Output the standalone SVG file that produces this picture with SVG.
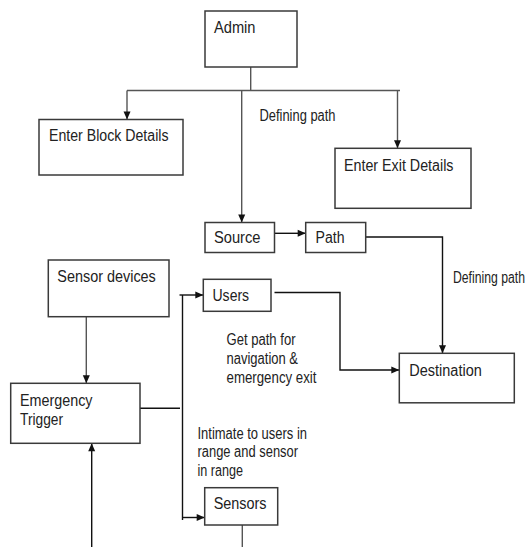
<svg xmlns="http://www.w3.org/2000/svg" width="531" height="547" viewBox="0 0 531 547">
<style>
.box{fill:#fff;stroke:#3a3a3a;stroke-width:1.5}
.t{font-family:"Liberation Sans",Arial,sans-serif;font-size:16px;fill:#222}
.ln{fill:none;stroke:#555;stroke-width:1.4}
.lk{fill:none;stroke:#111;stroke-width:1.4}
</style>
<defs>
<marker id="ah" markerUnits="userSpaceOnUse" markerWidth="10" markerHeight="10" viewBox="0 0 10 10" refX="9" refY="5" orient="auto">
<path d="M1,1.5 L9,5 L1,8.5 Z" fill="#111"/>
</marker>
</defs>
<rect width="531" height="547" fill="#fff"/>
<g id="connectors">
<path class="ln" d="M250.7,67 V90.5 M127,90.5 H400"/>
<path class="ln" d="M127,90.5 V119.5" marker-end="url(#ah)"/>
<path class="ln" d="M397.5,90.5 V148.3" marker-end="url(#ah)"/>
<path class="ln" d="M241.7,90.5 V222.5" marker-end="url(#ah)"/>
<path class="lk" d="M274.5,233.3 H305.7" marker-end="url(#ah)"/>
<path class="lk" d="M365.7,237 H442.5 V353.3" marker-end="url(#ah)"/>
<path class="lk" d="M274.5,292.5 H340 V370 H399.3" marker-end="url(#ah)"/>
<path class="ln" d="M86.3,316.7 V383.3" marker-end="url(#ah)"/>
<path class="lk" d="M140,408.3 H180"/>
<path class="lk" d="M182.5,295 V520"/>
<path class="lk" d="M179.5,295 H203.3" marker-end="url(#ah)"/>
<path class="lk" d="M182.5,517.5 H204.7" marker-end="url(#ah)"/>
<path class="ln" d="M242.3,525 V547"/>
<path class="lk" d="M91.7,547 V443.3" marker-end="url(#ah)"/>
<text class="t" x="259.5" y="120.5" textLength="76" lengthAdjust="spacingAndGlyphs">Defining path</text>
<text class="t" x="453" y="283" textLength="72" lengthAdjust="spacingAndGlyphs">Defining path</text>
<text class="t" x="226.5" y="345.3" textLength="69" lengthAdjust="spacingAndGlyphs">Get path for</text>
<text class="t" x="226.5" y="364" textLength="71.5" lengthAdjust="spacingAndGlyphs">navigation &amp;</text>
<text class="t" x="226.5" y="382.5" textLength="90" lengthAdjust="spacingAndGlyphs">emergency exit</text>
<text class="t" x="197.5" y="438.5" textLength="109.5" lengthAdjust="spacingAndGlyphs">Intimate to users in</text>
<text class="t" x="197.5" y="457" textLength="100.5" lengthAdjust="spacingAndGlyphs">range and sensor</text>
<text class="t" x="197.5" y="475.5" textLength="45.5" lengthAdjust="spacingAndGlyphs">in range</text>
</g>
<g id="admin">
<rect class="box" x="205" y="11" width="92" height="56"/>
<text class="t" x="214" y="32.5" textLength="41.5" lengthAdjust="spacingAndGlyphs">Admin</text>
</g>
<g id="enter-block-details">
<rect class="box" x="39" y="119.5" width="144" height="55.5"/>
<text class="t" x="49" y="141" textLength="119.5" lengthAdjust="spacingAndGlyphs">Enter Block Details</text>
</g>
<g id="enter-exit-details">
<rect class="box" x="335" y="148.3" width="136" height="60"/>
<text class="t" x="344" y="170.5" textLength="109.5" lengthAdjust="spacingAndGlyphs">Enter Exit Details</text>
</g>
<g id="source">
<rect class="box" x="205" y="222.5" width="69.5" height="30"/>
<text class="t" x="214" y="243" textLength="46.5" lengthAdjust="spacingAndGlyphs">Source</text>
</g>
<g id="path">
<rect class="box" x="305.7" y="222.5" width="60" height="30"/>
<text class="t" x="315.5" y="243" textLength="29" lengthAdjust="spacingAndGlyphs">Path</text>
</g>
<g id="destination">
<rect class="box" x="399.3" y="353.3" width="115" height="49.5"/>
<text class="t" x="409.3" y="376" textLength="72.5" lengthAdjust="spacingAndGlyphs">Destination</text>
</g>
<g id="users">
<rect class="box" x="203.3" y="279.3" width="67.7" height="32"/>
<text class="t" x="212.5" y="300.7" textLength="36.6" lengthAdjust="spacingAndGlyphs">Users</text>
</g>
<g id="sensor-devices">
<rect class="box" x="48.3" y="260" width="120.7" height="56.7"/>
<text class="t" x="57.3" y="282" textLength="98.5" lengthAdjust="spacingAndGlyphs">Sensor devices</text>
</g>
<g id="emergency-trigger">
<rect class="box" x="10.7" y="383.3" width="129.3" height="60"/>
<text class="t" x="20" y="405.5" textLength="72.5" lengthAdjust="spacingAndGlyphs">Emergency</text>
<text class="t" x="20" y="425" textLength="43" lengthAdjust="spacingAndGlyphs">Trigger</text>
</g>
<g id="sensors">
<rect class="box" x="204.7" y="487.7" width="73" height="37.3"/>
<text class="t" x="213.7" y="509.3" textLength="52.8" lengthAdjust="spacingAndGlyphs">Sensors</text>
</g>
</svg>
